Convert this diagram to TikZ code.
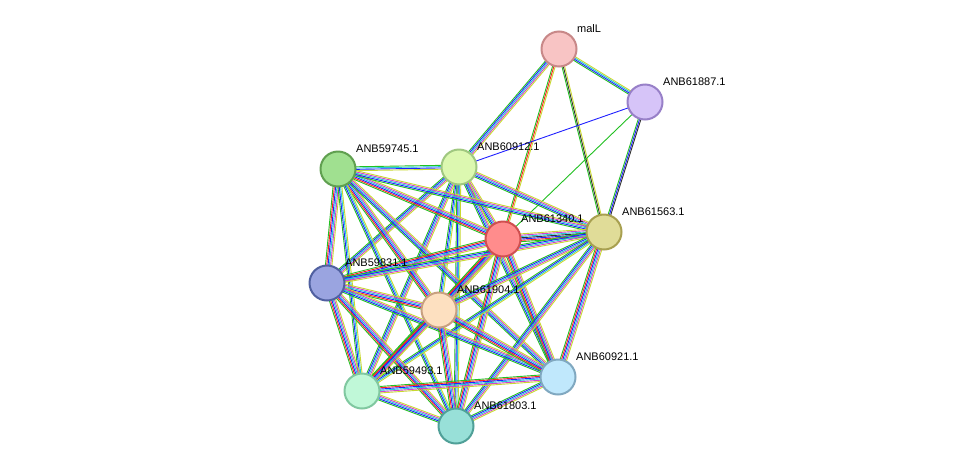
\documentclass[tikz,border=0pt]{standalone}
\usepackage{fontspec}
\setmainfont{Liberation Sans}
\usetikzlibrary{calc}
\definecolor{eg}{HTML}{22C022}\definecolor{er}{HTML}{FF2020}\definecolor{eb}{HTML}{2020FF}
\definecolor{ec}{HTML}{20C8D8}\definecolor{em}{HTML}{D040D0}\definecolor{ey}{HTML}{C8D830}
\definecolor{ek}{HTML}{303030}
\definecolor{f1}{HTML}{F8C4C4}\definecolor{d1}{HTML}{C88888}
\definecolor{f2}{HTML}{D6C4F8}\definecolor{d2}{HTML}{9880C8}
\definecolor{f3}{HTML}{DCF8B0}\definecolor{d3}{HTML}{A0C880}
\definecolor{f4}{HTML}{A0E090}\definecolor{d4}{HTML}{60A050}
\definecolor{f5}{HTML}{FF8C8C}\definecolor{d5}{HTML}{D05050}
\definecolor{f6}{HTML}{E0DC98}\definecolor{d6}{HTML}{A8A050}
\definecolor{f7}{HTML}{9AA4E0}\definecolor{d7}{HTML}{5060A0}
\definecolor{f8}{HTML}{FDE0C0}\definecolor{d8}{HTML}{C8A080}
\definecolor{f9}{HTML}{C0E8FC}\definecolor{d9}{HTML}{80A8C0}
\definecolor{f10}{HTML}{C0F8D8}\definecolor{d10}{HTML}{80C8A0}
\definecolor{f11}{HTML}{98E0D8}\definecolor{d11}{HTML}{50A098}
\newcommand\pedge[4]{% a b n colors
  \edef\mylist{#4}%
  \foreach \cc [count=\ii] in \mylist {%
    \pgfmathsetmacro\oo{(\ii-(#3+1)/2)*1.3}%
    \draw[\cc,line width=0.9pt] ($(#1)!\oo pt!90:(#2)$) -- ($(#2)!\oo pt!-90:(#1)$);}}
\tikzset{pn/.style={circle,minimum size=35pt,inner sep=0,line width=2pt},
 lb/.style={anchor=south west,inner sep=0,font=\fontsize{11}{13}\selectfont}}
\begin{document}
\begin{tikzpicture}[x=1pt,y=-1pt]
\useasboundingbox[fill=white] (0,0) rectangle (976,472);
\coordinate (mal) at (559,49); \coordinate (n87) at (645,102);
\coordinate (n12) at (459,167); \coordinate (n45) at (338,169);
\coordinate (n40) at (503,239); \coordinate (n63) at (604,232);
\coordinate (n31) at (327,283); \coordinate (n04) at (439,310);
\coordinate (n21) at (558,377); \coordinate (n93) at (362,391);
\coordinate (n03) at (456,426);
\def\full{eg,eb,ec,em,ey}
\def\fullr{eg,er,eb,ec,em,ey}
\pedge{mal}{n87}{4}{eg,eb,ec,ey}
\pedge{mal}{n12}{5}{\full}
\pedge{mal}{n40}{3}{eg,er,ey}
\pedge{mal}{n63}{3}{eg,ek,ey}
\pedge{n87}{n12}{1}{eb}
\pedge{n87}{n40}{1}{eg}
\pedge{n87}{n63}{3}{eg,eb,ek}
\pedge{n12}{n45}{4}{eg,ec,eb,ey}
\pedge{n12}{n40}{5}{\full}
\pedge{n12}{n63}{5}{\full}
\pedge{n12}{n31}{5}{\full}
\pedge{n12}{n04}{4}{eg,eb,ec,ey}
\pedge{n12}{n93}{5}{\full}
\pedge{n12}{n03}{4}{eg,eb,ec,ey}
\pedge{n12}{n21}{5}{\full}
\pedge{n45}{n40}{6}{\fullr}
\pedge{n45}{n31}{6}{\fullr}
\pedge{n45}{n04}{6}{\fullr}
\pedge{n45}{n21}{5}{\full}
\pedge{n45}{n93}{4}{eg,eb,ec,ey}
\pedge{n45}{n63}{5}{\full}
\pedge{n45}{n03}{4}{eg,eb,ec,ey}
\pedge{n40}{n63}{7}{eg,er,eb,ek,ec,em,ey}
\pedge{n40}{n31}{6}{\fullr}
\pedge{n40}{n04}{7}{eg,er,eb,ek,ec,em,ey}
\pedge{n40}{n21}{6}{\fullr}
\pedge{n40}{n93}{6}{\fullr}
\pedge{n40}{n03}{6}{\fullr}
\pedge{n63}{n31}{5}{\full}
\pedge{n63}{n04}{5}{\full}
\pedge{n63}{n21}{6}{\fullr}
\pedge{n63}{n93}{4}{eg,eb,ec,ey}
\pedge{n63}{n03}{5}{\full}
\pedge{n31}{n04}{6}{\fullr}
\pedge{n31}{n93}{6}{\fullr}
\pedge{n31}{n03}{6}{\fullr}
\pedge{n31}{n21}{5}{\full}
\pedge{n04}{n21}{6}{\fullr}
\pedge{n04}{n93}{6}{\fullr}
\pedge{n04}{n03}{6}{\fullr}
\pedge{n21}{n93}{6}{\fullr}
\pedge{n21}{n03}{5}{\full}
\pedge{n93}{n03}{5}{\full}
\node[pn,fill=f1,draw=d1] (a1) at (mal) {};
\node[pn,fill=f2,draw=d2] (a2) at (n87) {};
\node[pn,fill=f3,draw=d3] (a3) at (n12) {};
\node[pn,fill=f4,draw=d4] (a4) at (n45) {};
\node[pn,fill=f5,draw=d5] (a5) at (n40) {};
\node[pn,fill=f6,draw=d6] (a6) at (n63) {};
\node[pn,fill=f7,draw=d7] (a7) at (n31) {};
\node[pn,fill=f8,draw=d8] (a8) at (n04) {};
\node[pn,fill=f9,draw=d9] (a9) at (n21) {};
\node[pn,fill=f10,draw=d10] (a10) at (n93) {};
\node[pn,fill=f11,draw=d11] (a11) at (n03) {};
\node[lb] (t1) at ($(mal)+(18,-16)$) {malL};
\node[lb] (t2) at ($(n87)+(18,-16)$) {ANB61887.1};
\node[lb] (t3) at ($(n12)+(18,-16)$) {ANB60912.1};
\node[lb] (t4) at ($(n45)+(18,-16)$) {ANB59745.1};
\node[lb] (t5) at ($(n40)+(18,-16)$) {ANB61340.1};
\node[lb] (t6) at ($(n63)+(18,-16)$) {ANB61563.1};
\node[lb] (t7) at ($(n31)+(18,-16)$) {ANB59831.1};
\node[lb] (t8) at ($(n04)+(18,-16)$) {ANB61904.1};
\node[lb] (t9) at ($(n21)+(18,-16)$) {ANB60921.1};
\node[lb] (t10) at ($(n93)+(18,-16)$) {ANB59493.1};
\node[lb] (t11) at ($(n03)+(18,-16)$) {ANB61803.1};
\end{tikzpicture}
\end{document}
